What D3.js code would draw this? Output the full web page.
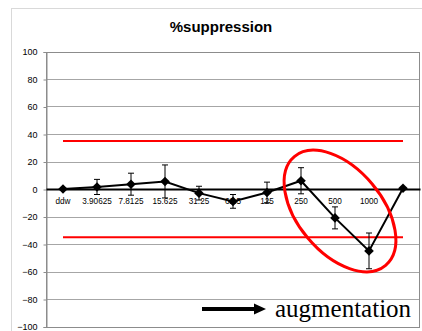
<!DOCTYPE html>
<html>
<head>
<meta charset="utf-8">
<script src="https://cdn.jsdelivr.net/npm/d3@7"></script>
<style>
  html, body { margin: 0; padding: 0; background: #fff; }
  svg { display: block; }
</style>
</head>
<body>
<svg id="chart" width="422" height="331"></svg>
<script>
// Dose categories (the last point carries no label)
const categories = ["ddw", "3.90625", "7.8125", "15.625", "31.25", "62.5", "125", "250", "500", "1000", ""];
// %suppression per dose and its error
const values = [0, 1.5, 3.5, 5.5, -3, -9, -2.5, 6, -21, -45, 0.5];
const errors = [0, 5.5, 8, 12, 5, 5, 7.5, 9.5, 8, 13, 0];
// Threshold lines
const thresholds = [35, -35];
// Y axis ticks
const yTicks = [-100, -80, -60, -40, -20, 0, 20, 40, 60, 80, 100];

const svg = d3.select("#chart");
const plot = { left: 46, right: 420, top: 51.5, bottom: 326.5 };

const x = d3.scaleBand().domain(categories).range([plot.left, plot.right]);
const y = d3.scaleLinear().domain([-100, 100]).range([plot.bottom, plot.top]);
const cx = c => x(c) + x.bandwidth() / 2;

// chart frame
svg.append("rect")
  .attr("x", 11.5).attr("y", 8.5).attr("width", 430).attr("height", 340)
  .attr("fill", "#fff").attr("stroke", "#d9d9d9");

// title
svg.append("text")
  .attr("x", 221).attr("y", 32)
  .attr("text-anchor", "middle")
  .attr("font-family", "Liberation Sans, Arial, sans-serif")
  .attr("font-weight", "bold").attr("font-size", 15)
  .attr("fill", "#000")
  .text("%suppression");

// gridlines
svg.append("g").selectAll("line").data(yTicks).join("line")
  .attr("x1", plot.left).attr("x2", plot.right)
  .attr("y1", d => Math.round(y(d)) + 0.5).attr("y2", d => Math.round(y(d)) + 0.5)
  .attr("stroke", "#a6a6a6").attr("stroke-width", 1);

// plot border
svg.append("rect")
  .attr("x", plot.left + 0.5).attr("y", Math.round(plot.top) + 0.5)
  .attr("width", plot.right - plot.left - 1)
  .attr("height", Math.round(plot.bottom) - Math.round(plot.top))
  .attr("fill", "none").attr("stroke", "#8c8c8c");

// y axis
const yAxis = d3.axisLeft(y).tickValues(yTicks).tickSize(3).tickPadding(6).tickFormat(d3.format("d"));
const gy = svg.append("g").attr("transform", `translate(${plot.left + 0.5},0.5)`).call(yAxis);
gy.select(".domain").attr("stroke", "#8c8c8c");
gy.selectAll(".tick line").attr("stroke", "#8c8c8c");
gy.selectAll(".tick text")
  .attr("font-family", "Liberation Sans, Arial, sans-serif")
  .attr("font-size", 9).attr("fill", "#000");

// zero line with category labels beneath
const xAxis = d3.axisBottom(x).tickSize(0).tickPadding(9);
const gx = svg.append("g").attr("transform", `translate(0,${y(0)})`).call(xAxis);
gx.select(".domain").attr("stroke", "#000").attr("stroke-width", 2);
gx.selectAll(".tick text")
  .attr("font-family", "Liberation Sans, Arial, sans-serif")
  .attr("font-size", 8.2).attr("fill", "#000");

// threshold lines
svg.append("g").selectAll("line").data(thresholds).join("line")
  .attr("x1", cx(categories[0])).attr("x2", cx(categories[categories.length - 1]))
  .attr("y1", d => y(d)).attr("y2", d => y(d))
  .attr("stroke", "#ff0000").attr("stroke-width", 2);

const pts = categories.map((c, i) => ({ c, v: values[i], e: errors[i] }));

// series line
svg.append("path").datum(pts)
  .attr("d", d3.line().x(d => cx(d.c)).y(d => y(d.v)))
  .attr("fill", "none").attr("stroke", "#000").attr("stroke-width", 2);

// error bars
const eb = svg.append("g").attr("stroke", "#000").attr("stroke-width", 1)
  .selectAll("g").data(pts.filter(d => d.e > 0)).join("g");
eb.append("line")
  .attr("x1", d => cx(d.c)).attr("x2", d => cx(d.c))
  .attr("y1", d => y(d.v + d.e)).attr("y2", d => y(d.v - d.e));
eb.append("line")
  .attr("x1", d => cx(d.c) - 3).attr("x2", d => cx(d.c) + 3)
  .attr("y1", d => y(d.v + d.e)).attr("y2", d => y(d.v + d.e));
eb.append("line")
  .attr("x1", d => cx(d.c) - 3).attr("x2", d => cx(d.c) + 3)
  .attr("y1", d => y(d.v - d.e)).attr("y2", d => y(d.v - d.e));

// diamond markers
svg.append("g").selectAll("path").data(pts).join("path")
  .attr("transform", d => `translate(${cx(d.c)},${y(d.v)})`)
  .attr("d", "M0,-4.8L4.8,0L0,4.8L-4.8,0Z")
  .attr("fill", "#000");

// highlight ellipse around the high-dose points
svg.append("ellipse")
  .attr("transform", `translate(${cx("500") + 5},${y(-16)}) rotate(50)`)
  .attr("rx", 71).attr("ry", 42)
  .attr("fill", "none").attr("stroke", "#ff0000").attr("stroke-width", 3);

// augmentation arrow
svg.append("line")
  .attr("x1", 202).attr("x2", 256).attr("y1", 309).attr("y2", 309)
  .attr("stroke", "#000").attr("stroke-width", 4);
svg.append("path")
  .attr("d", "M254,303.5L266,309L254,314.5Z")
  .attr("fill", "#000");
svg.append("text")
  .attr("x", 275).attr("y", 316.5)
  .attr("font-family", "Liberation Serif, Times New Roman, serif")
  .attr("font-size", 25).attr("fill", "#000")
  .text("augmentation");
</script>
</body>
</html>
